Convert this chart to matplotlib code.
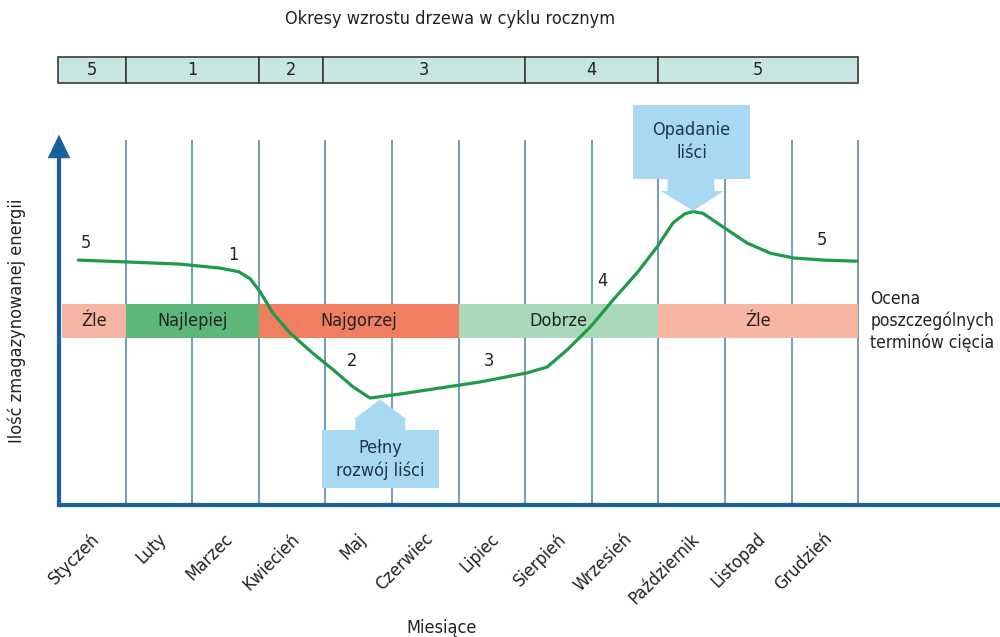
import matplotlib
matplotlib.use("Agg")
import matplotlib.pyplot as plt
from matplotlib.patches import Rectangle, Polygon

plt.rcParams['font.family'] = ['DejaVu Sans']
plt.rcParams['font.stretch'] = 'condensed'

# months and the energy curve (month position, stored energy)
months = ["Styczeń", "Luty", "Marzec", "Kwiecień", "Maj", "Czerwiec", "Lipiec",
          "Sierpień", "Wrzesień", "Październik", "Listopad", "Grudzień"]
curve_x = [0.29, 0.99, 1.82, 2.42, 2.70, 2.87, 3.02, 3.21, 3.47, 3.81, 4.12, 4.42,
           4.67, 5.12, 6.32, 7.03, 7.33, 7.63, 7.98, 8.32, 8.68, 8.98, 9.22, 9.40,
           9.52, 9.67, 9.97, 10.33, 10.68, 11.02, 11.47, 11.99]
curve_y = [67.1, 66.6, 66.0, 64.9, 63.9, 62.0, 58.4, 52.6, 47.1, 41.6, 37.0, 32.3,
           29.3, 30.4, 33.7, 36.2, 37.8, 42.5, 48.8, 56.2, 63.6, 70.7, 77.3, 79.8,
           80.4, 79.9, 76.2, 71.8, 69.0, 67.7, 67.1, 66.8]

# growth periods (top bar)
period_labels = ["5", "1", "2", "3", "4", "5"]
period_start = [-0.02, 1, 3, 3.97, 7, 9]
period_end = [1, 3, 3.97, 7, 9, 12]

# rating of pruning dates
rating_labels = ["Źle", "Najlepiej", "Najgorzej", "Dobrze", "Źle"]
rating_start = [0.05, 1, 3, 6, 9]
rating_end = [1, 3, 6, 9, 12]
rating_colors = ["#f6b4a2", "#5db77b", "#f07f62", "#a9d9b8", "#f7b6a2"]

# numbers along the curve
num_labels = ["5", "1", "2", "3", "4", "5"]
num_x = [0.4, 2.62, 4.4, 6.45, 8.16, 11.45]
num_y = [71.8, 68.5, 39.5, 39.5, 61.5, 72.5]

fig = plt.figure(figsize=(10, 6.37), dpi=100)
ax = fig.add_axes([0.059, 1 - 505 / 637, 0.939, 365 / 637])
ax.set_xlim(0, 14.1)
ax.set_ylim(0, 100)
ax.axis("off")

axis_col = "#1c5f9e"
grid_col = "#4f7fa6"
fs = 13

for m in range(1, 13):
    ax.plot([m, m], [0, 100], color=grid_col, lw=1.1, zorder=1)

# rating band
for s, e, lab, c in zip(rating_start, rating_end, rating_labels, rating_colors):
    ax.add_patch(Rectangle((s, 45.8), e - s, 9.4, facecolor=c, edgecolor="none", zorder=2))
    ax.text((s + e) / 2, 50.5, lab, ha="center", va="center", fontsize=fs,
            color="#222222", zorder=3)

ax.plot(curve_x, curve_y, color="#1f9a48", lw=2.3, zorder=4,
        solid_capstyle="round", solid_joinstyle="round")

for lab, x, y in zip(num_labels, num_x, num_y):
    ax.text(x, y, lab, ha="center", va="center", fontsize=fs, color="#222222", zorder=5)

# axes
ax.plot([0, 14.1], [0, 0], color=axis_col, lw=3, zorder=6, clip_on=False)
ax.plot([0, 0], [0, 96], color=axis_col, lw=3, zorder=6, clip_on=False)
ax.add_patch(Polygon([[-0.17, 95], [0.17, 95], [0, 101.5]], closed=True,
                     facecolor=axis_col, edgecolor="none", zorder=6, clip_on=False))

# top bar
for s, e, lab in zip(period_start, period_end, period_labels):
    ax.add_patch(Rectangle((s, 115.6), e - s, 7.1, facecolor="#c7e6e2", edgecolor="#3a3a3a",
                           lw=1.2, zorder=2, clip_on=False))
    ax.text((s + e) / 2, 119.1, lab, ha="center", va="center", fontsize=fs,
            color="#222222", clip_on=False)
ax.text(5.87, 133.2, "Okresy wzrostu drzewa w cyklu rocznym", ha="center", va="center",
        fontsize=fs, color="#222222")

# callouts
box_col = "#a9d9f2"
ax.add_patch(Rectangle((8.62, 89.3), 1.75, 20.3, facecolor=box_col, edgecolor="none",
                       zorder=5, clip_on=False))
ax.add_patch(Polygon([[9.14, 89.5], [9.84, 89.5], [9.84, 86.0], [9.98, 86.0], [9.52, 80.6],
                      [9.04, 86.0], [9.14, 86.0]], closed=True, facecolor=box_col,
                     edgecolor="none", zorder=5))
ax.text(9.5, 99.5, "Opadanie\nliści", ha="center", va="center", fontsize=fs,
        color="#1d3550", linespacing=1.35, zorder=6)

ax.add_patch(Rectangle((3.95, 4.6), 1.75, 15.9, facecolor=box_col, edgecolor="none", zorder=5))
ax.add_patch(Polygon([[4.45, 20.4], [5.2, 20.4], [5.2, 23.5], [5.22, 23.5],
                      [4.82, 28.9], [4.43, 23.5], [4.45, 23.5]], closed=True,
                     facecolor=box_col, edgecolor="none", zorder=5))
ax.text(4.83, 12.5, "Pełny\nrozwój liści", ha="center", va="center", fontsize=fs,
        color="#1d3550", linespacing=1.35, zorder=6)

# month labels
for i, name in enumerate(months):
    ax.text(i + 0.57, -8.5, name, ha="right", va="center", rotation=45,
            rotation_mode="anchor", fontsize=fs, color="#222222", clip_on=False)

ax.text(5.74, -33.8, "Miesiące", ha="center", va="center", fontsize=fs, color="#222222")
ax.text(-0.63, 50.5, "Ilość zmagazynowanej energii", ha="center", va="center",
        rotation=90, fontsize=fs, color="#222222")
ax.text(12.18, 50.5, "Ocena\nposzczególnych\nterminów cięcia", ha="left", va="center",
        fontsize=12.5, color="#222222", linespacing=1.25)

fig.savefig("out.png", dpi=100, facecolor="white")
